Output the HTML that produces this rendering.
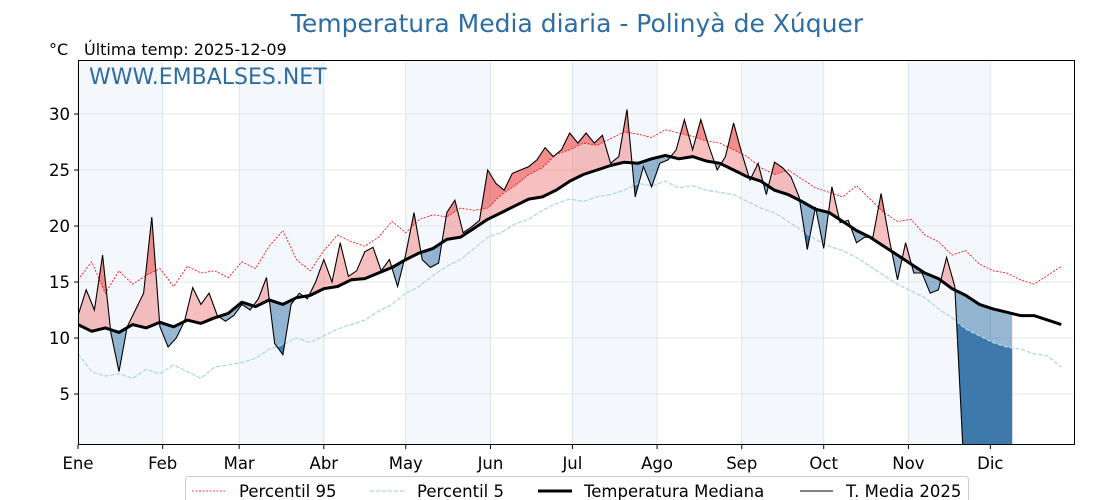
<!DOCTYPE html>
<html><head><meta charset="utf-8">
<style>
html,body{margin:0;padding:0;background:#fff;}
svg{display:block;font-family:"DejaVu Sans","Liberation Sans",sans-serif;}
</style></head>
<body>
<svg id="chart" width="1120" height="500" viewBox="0 0 1120 500" xmlns="http://www.w3.org/2000/svg">
<text x="577" y="32" text-anchor="middle" font-size="25" fill="#2e6da4">Temperatura Media diaria - Polinyà de Xúquer</text>
<text x="49" y="55" font-size="16" fill="#000">°C</text>
<text x="84" y="55" font-size="16" fill="#000">Última temp: 2025-12-09</text>
<g id="plot"></g>
<text x="89" y="84" font-size="22" fill="#2e6da4">WWW.EMBALSES.NET</text>
<g id="legend">
<rect x="185.5" y="476.5" width="783" height="30" rx="3" fill="#fff" stroke="#ccc"/>
<line x1="192" y1="491" x2="225" y2="491" stroke="#f00" stroke-width="0.8" stroke-dasharray="2,1.5"/>
<text x="239" y="497" font-size="16.5">Percentil 95</text>
<line x1="370" y1="491" x2="405" y2="491" stroke="#add8e6" stroke-width="1.2" stroke-dasharray="4,2"/>
<text x="417" y="497" font-size="16.5">Percentil 5</text>
<line x1="538" y1="491" x2="572" y2="491" stroke="#000" stroke-width="3"/>
<text x="584" y="497" font-size="16.5">Temperatura Mediana</text>
<line x1="800" y1="491" x2="833" y2="491" stroke="#000" stroke-width="1"/>
<text x="846" y="497" font-size="16.5">T. Media 2025</text>
</g>
</svg>
<script>
const monthLabels = ["Ene","Feb","Mar","Abr","May","Jun","Jul","Ago","Sep","Oct","Nov","Dic"];
const monthStartDays = [0,31,59,90,120,151,181,212,243,273,304,334];
const yTicks = [5,10,15,20,25,30];
const climStep = 5;
const medianVals = [11.2,10.6,10.9,10.5,11.2,10.9,11.4,11.0,11.6,11.3,11.8,12.2,13.2,12.8,13.4,13.0,13.6,13.8,14.4,14.6,15.2,15.3,15.8,16.3,17.0,17.6,18.0,18.8,19.0,19.8,20.6,21.2,21.8,22.4,22.6,23.2,24.0,24.6,25.0,25.4,25.7,25.6,26.0,26.3,26.0,26.2,25.8,25.6,25.0,24.4,24.0,23.2,22.8,22.2,21.5,21.2,20.4,19.6,19.0,18.2,17.4,16.6,15.8,15.3,14.4,13.8,13.0,12.6,12.3,12.0,12.0,11.6,11.2];
const p95Vals = [15.2,16.8,14.0,16.0,14.8,15.6,16.2,14.6,16.4,15.8,16.0,15.4,16.8,16.2,18.2,19.6,17.0,16.0,17.8,19.2,18.6,18.2,19.0,20.4,19.4,20.6,21.0,20.8,21.6,21.4,21.6,22.8,23.6,24.6,25.2,26.4,26.8,27.4,27.2,27.8,28.4,28.2,27.9,28.6,28.3,28.0,27.6,27.4,26.8,26.2,25.2,24.6,25.0,24.2,23.4,23.0,22.6,23.6,22.4,21.2,20.4,20.6,19.2,18.6,17.4,17.8,16.6,16.0,15.8,15.2,14.8,15.6,16.4];
const p5Vals = [8.6,7.0,6.6,6.8,6.4,7.2,6.8,7.6,7.0,6.4,7.4,7.6,7.8,8.2,9.0,9.4,10.0,9.6,10.2,10.8,11.2,11.6,12.4,13.0,14.0,14.6,15.6,16.4,17.0,18.0,19.0,19.4,20.2,20.6,21.4,22.0,22.4,22.2,22.6,22.8,23.2,23.8,23.6,24.0,23.4,23.6,23.2,23.0,22.8,22.2,21.6,21.2,20.4,19.6,18.8,18.2,17.8,17.2,16.4,15.6,14.8,14.2,13.6,12.6,11.8,10.8,10.2,9.6,9.2,9.0,8.6,8.4,7.4];
const t2025Step = 3;
const t2025Vals = [12,14.3,12.5,17.4,10.5,7.0,11,12.5,14,20.8,11,9.2,10,11.5,14.5,13,14,12,11.5,12,13,12.5,13.5,15.4,9.5,8.5,13,14,13.5,15,17,15,18.5,15.5,16,17.7,18.1,16,17,14.6,17.5,21.2,17,16.3,16.7,21.2,22.3,19.4,19.9,20.5,25,23.8,23.2,24.7,25,25.3,25.9,27,26.2,26.8,28.3,27.4,28.3,27.4,28.1,25.6,26.2,30.4,22.6,25.3,23.5,25.6,25.9,26.8,29.5,26.8,29.5,27.1,25,26.2,29.2,26.5,24.1,25.6,22.8,25.7,25.2,24.4,22.6,17.9,21.7,18,23.5,20.3,20.5,18.5,19,19,22.9,18.8,15.2,18.5,15.8,15.8,14,14.3,17.2,14.6,0,0,0,0,0,0,0];

const NS="http://www.w3.org/2000/svg";
const L=78,R=1075,T=60,B=445;
const xS=d=>L+d*(R-L)/365;
const yS=v=>394-(v-5)*11.2;
const plot=document.getElementById('plot');
function mk(tag,attrs,parent){const e=document.createElementNS(NS,tag);for(const k in attrs)e.setAttribute(k,attrs[k]);(parent||plot).appendChild(e);return e;}
const pts=(vals,step)=>vals.map((v,i)=>[xS(i*step),yS(v)]);
const ps=a=>a.map(p=>p[0].toFixed(1)+','+p[1].toFixed(1)).join(' ');

const tP=pts(t2025Vals,t2025Step), mP=pts(medianVals,climStep), p95P=pts(p95Vals,climStep), p5P=pts(p5Vals,climStep);
const tEnd=tP[tP.length-1][0];

const defs=mk('defs',{});
const cp=mk('clipPath',{id:'plotclip'},defs); mk('rect',{x:L,y:T,width:R-L,height:B-T},cp);
const cf=mk('clipPath',{id:'fillclip'},defs); mk('rect',{x:L,y:T,width:tEnd-L,height:B-T},cf);
function regionClip(id,vals,step,above){const c=mk('clipPath',{id:id},defs);const p=pts(vals,step);const yy=above?-1000:2000;const poly=[[p[0][0]-50,p[0][1]],...p,[p[p.length-1][0]+50,p[p.length-1][1]],[p[p.length-1][0]+50,yy],[p[0][0]-50,yy]];mk('polygon',{points:ps(poly)},c);}
regionClip('aboveMed',medianVals,climStep,true);
regionClip('belowMed',medianVals,climStep,false);
regionClip('aboveP95',p95Vals,climStep,true);
regionClip('belowP5',p5Vals,climStep,false);

monthStartDays.forEach((d,i)=>{if(i%2===0){const e=i+1<12?monthStartDays[i+1]:365;
const r=mk('rect',{x:xS(d),y:T,width:xS(e)-xS(d),height:B-T,fill:'#f4f8fc'});

}});
yTicks.forEach(v=>{const g=mk('line',{x1:L,x2:R,y1:yS(v),y2:yS(v),stroke:'#e6e6e6','stroke-width':1});

});
monthStartDays.forEach((d,i)=>{const g=mk('line',{x1:xS(d),x2:xS(d),y1:T,y2:B,stroke:'#dde4ea','stroke-width':1});

});

const data=mk('g',{'clip-path':'url(#plotclip)'});


const fills=mk('g',{'clip-path':'url(#fillclip)'},data);


const band=(a,b)=>ps([...a,...b.slice().reverse()]);
const mCut=mP.filter(p=>p[0]<=tEnd+14);
let f=mk('polygon',{points:band(tP,mCut),fill:'#f08080','fill-opacity':0.5,'clip-path':'url(#aboveMed)'},fills);


f=mk('polygon',{points:band(tP,p95P.filter(p=>p[0]<=tEnd+14)),fill:'#e85050','fill-opacity':0.45,'clip-path':'url(#aboveP95)'},fills);


f=mk('polygon',{points:band(tP,mCut),fill:'#2f6fa6','fill-opacity':0.5,'clip-path':'url(#belowMed)'},fills);


f=mk('polygon',{points:band(tP,p5P.filter(p=>p[0]<=tEnd+14)),fill:'#2f6fa6','fill-opacity':0.85,'clip-path':'url(#belowP5)'},fills);


let l=mk('polyline',{points:ps(p95P),fill:'none',stroke:'#f00','stroke-width':0.8,'stroke-dasharray':'2,1.5'},data);


l=mk('polyline',{points:ps(p5P),fill:'none',stroke:'#add8e6','stroke-width':1.3,'stroke-dasharray':'4,2'},data);


l=mk('polyline',{points:ps(mP),fill:'none',stroke:'#000','stroke-width':3,'stroke-linejoin':'round'},data);


l=mk('polyline',{points:ps(tP),fill:'none',stroke:'#000','stroke-width':1.1},data);



const fr=mk('rect',{x:L+0.5,y:T+0.5,width:R-L-1,height:B-T-1,fill:'none',stroke:'#000','stroke-width':1});


yTicks.forEach(v=>{mk('line',{x1:L-4,x2:L,y1:yS(v),y2:yS(v),stroke:'#000'});
const t=mk('text',{x:L-8,y:yS(v)+6,'text-anchor':'end','font-size':16.5});t.textContent=v;

});
monthStartDays.forEach((d,i)=>{mk('line',{x1:xS(d),x2:xS(d),y1:B,y2:B+4,stroke:'#000'});
const t=mk('text',{x:xS(d),y:B+24,'text-anchor':'middle','font-size':16.5});t.textContent=monthLabels[i];

});
</script>
</body></html>
